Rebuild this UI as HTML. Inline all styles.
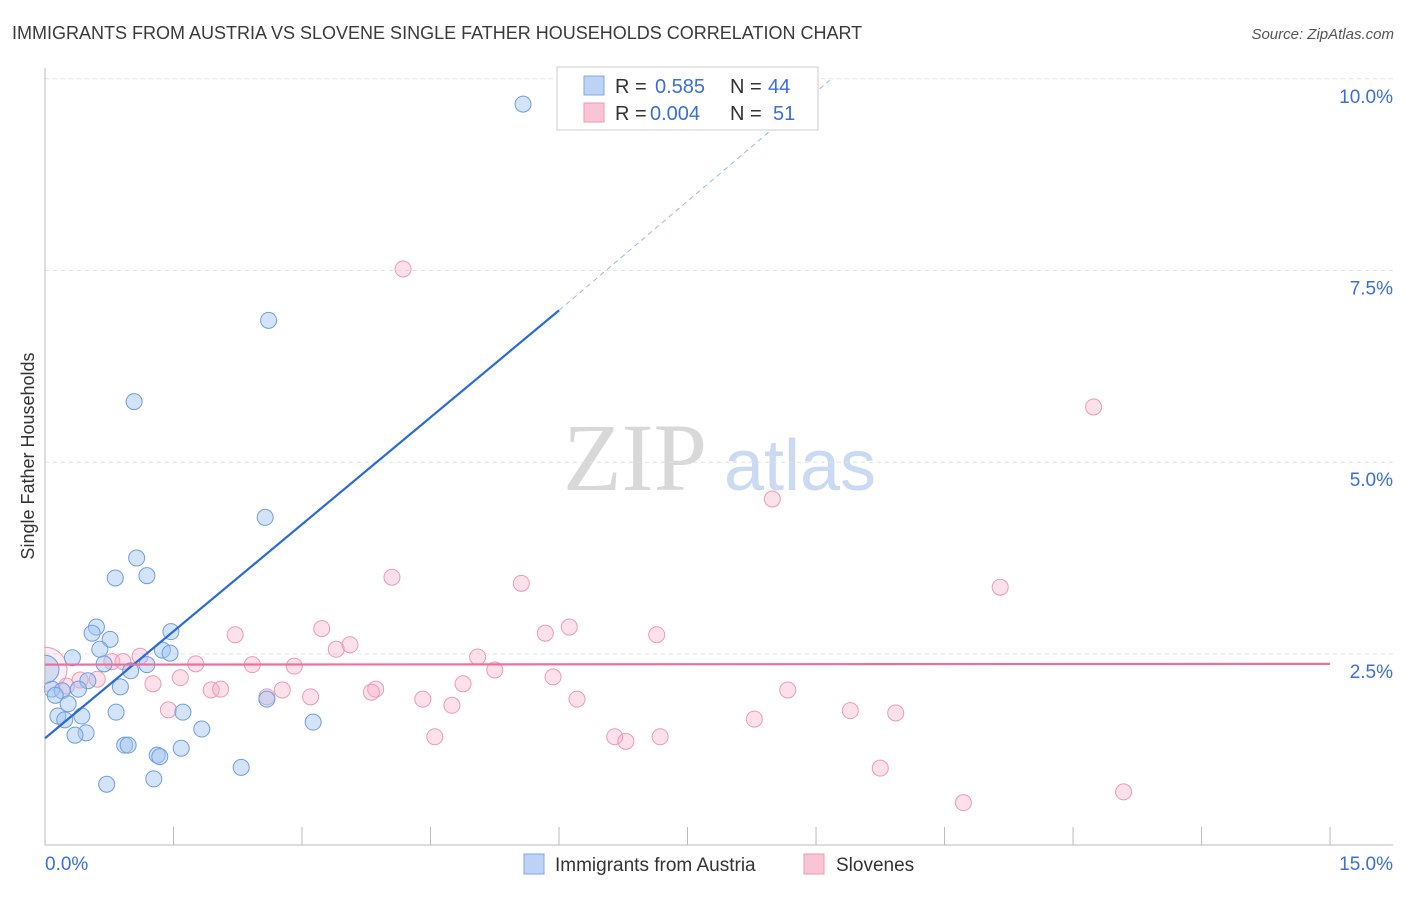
<!DOCTYPE html>
<html><head><meta charset="utf-8">
<style>
html,body{margin:0;padding:0;background:#fff;}
body{width:1406px;height:892px;overflow:hidden;font-family:"Liberation Sans",sans-serif;}
</style></head>
<body>
<svg id="chart" width="1406" height="892" xmlns="http://www.w3.org/2000/svg" font-family="Liberation Sans, sans-serif">
<text x="12" y="39" font-size="18" fill="#3a3a3a">IMMIGRANTS FROM AUSTRIA VS SLOVENE SINGLE FATHER HOUSEHOLDS CORRELATION CHART</text>
<text x="1394" y="39" font-size="15" fill="#555" text-anchor="end" font-style="italic">Source: ZipAtlas.com</text>
<text transform="translate(34,456) rotate(-90)" font-size="18" fill="#333" text-anchor="middle">Single Father Households</text>
<g>
<text x="635" y="490" font-size="96" fill="#d8d8d8" text-anchor="middle" font-family="Liberation Serif, serif">ZIP</text>
<text x="800" y="490" font-size="72" fill="#c9daf2" text-anchor="middle">atlas</text>
</g>
<g id="grid"></g>
<g id="marks"></g>
<rect x="0" y="630" width="44" height="70" fill="#fff"/>
<g id="axes"></g>
<g id="lines"></g>
<g>
<rect x="557" y="67" width="261" height="63" fill="#fff" stroke="#ccc"/>
<rect x="584" y="76" width="20" height="19" fill="#bcd3f5" stroke="#7ea8e6"/>
<rect x="584" y="103" width="20" height="19" fill="#f9c4d4" stroke="#ee9ab4"/>
<text x="615" y="93" font-size="20" fill="#333">R =</text><text x="655" y="93" font-size="20" fill="#3a6fd8">0.585</text>
<text x="730" y="93" font-size="20" fill="#333">N =</text><text x="768" y="93" font-size="20" fill="#3a6fd8">44</text>
<text x="615" y="120" font-size="20" fill="#333">R =</text><text x="650" y="120" font-size="20" fill="#3a6fd8">0.004</text>
<text x="730" y="120" font-size="20" fill="#333">N =</text><text x="773" y="120" font-size="20" fill="#3a6fd8">51</text>
</g>
<g>
<rect x="524" y="854" width="20" height="20" fill="#bcd3f5" stroke="#7ea8e6"/>
<text x="555" y="871" font-size="19" fill="#333">Immigrants from Austria</text>
<rect x="804" y="854" width="20" height="20" fill="#f9c4d4" stroke="#ee9ab4"/>
<text x="836" y="871" font-size="19" fill="#333">Slovenes</text>
</g>
</svg>
<script>
const blueX=[5.58,2.61,1.04,2.57,1.07,0.82,1.19,0.60,0.55,0.76,1.47,0.64,1.37,1.46,0.32,0.69,1.00,1.19,0.50,0.88,0.39,0.08,0.20,0.12,0.27,2.59,0.83,1.61,0.15,0.43,0.23,1.83,0.48,0.35,3.13,0.93,0.97,1.31,1.34,1.59,2.29,1.27,0.72,0.0];
const blueY=[9.67,6.85,5.79,4.28,3.75,3.49,3.52,2.85,2.77,2.69,2.79,2.56,2.55,2.51,2.45,2.37,2.28,2.36,2.15,2.07,2.04,2.04,2.02,1.96,1.85,1.91,1.74,1.74,1.69,1.69,1.64,1.52,1.47,1.44,1.61,1.31,1.31,1.18,1.16,1.27,1.02,0.87,0.80,2.30];
const pinkX=[4.18,12.24,8.49,4.05,5.56,11.15,6.12,3.23,5.84,7.14,2.22,3.56,3.40,5.05,1.11,1.76,2.42,2.91,0.78,0.91,5.25,5.93,1.58,0.61,0.41,0.25,1.26,4.88,2.77,1.94,2.05,3.86,3.81,2.59,3.10,8.67,4.41,6.21,4.75,1.44,9.40,9.93,8.28,4.55,6.65,7.18,6.78,9.75,10.72,12.59,0];
const pinkY=[7.52,5.72,4.52,3.50,3.42,3.37,2.85,2.83,2.77,2.75,2.75,2.62,2.56,2.46,2.47,2.37,2.36,2.34,2.40,2.40,2.29,2.20,2.19,2.17,2.16,2.08,2.11,2.11,2.03,2.03,2.04,2.04,2.00,1.94,1.94,2.03,1.91,1.91,1.83,1.77,1.76,1.73,1.65,1.42,1.42,1.42,1.36,1.01,0.56,0.70,2.30];
const yTicks=[2.5,5.0,7.5,10.0];
const yTickLabels=["2.5%","5.0%","7.5%","10.0%"];
const xTicks=[0,1.5,3,4.5,6,7.5,9,10.5,12,13.5,15];
const blueFit=[0,1.40,6.0,6.98,9.16,9.98];
const pinkFit=[0,2.36,15,2.37];
const NS="http://www.w3.org/2000/svg";
const X=v=>45+v*85.67, Y=v=>845.6-v*76.68;
function mk(tag,attrs,parent){const e=document.createElementNS(NS,tag);for(const k in attrs)e.setAttribute(k,attrs[k]);document.getElementById(parent).appendChild(e);return e;}
yTicks.forEach((t,i)=>{
 const g=mk('line',{x1:45,x2:1393,y1:Y(t),y2:Y(t),stroke:'#e2e2e2','stroke-dasharray':'4,4'},'grid');
 
 
 const l=mk('text',{x:1393,y:Y(t)+24,'font-size':19,fill:'#3a6fd8','text-anchor':'end'},'axes');
 l.textContent=yTickLabels[i];
 
 
});
const ax=mk('line',{x1:45,x2:1393,y1:845,y2:845,stroke:'#bbb'},'axes');


const ay=mk('line',{x1:45,x2:45,y1:68,y2:845,stroke:'#bbb'},'axes');


xTicks.forEach(t=>{const e=mk('line',{x1:X(t),x2:X(t),y1:827,y2:845,stroke:'#bbb'},'axes');
 
 });
const x0=mk('text',{x:45,y:870,'font-size':19,fill:'#3a6fd8'},'axes');x0.textContent='0.0%';


const x1=mk('text',{x:1393,y:870,'font-size':19,fill:'#3a6fd8','text-anchor':'end'},'axes');x1.textContent='15.0%';


pinkX.forEach((v,i)=>{const big=i===pinkX.length-1;const c=mk('circle',{cx:X(v),cy:Y(pinkY[i]),r:big?22:8,fill:big?'rgba(245,170,195,0.2)':'rgba(245,170,195,0.35)',stroke:'#ee9ab4','stroke-width':1},'marks');
 
 });
blueX.forEach((v,i)=>{const big=i===blueX.length-1;const c=mk('circle',{cx:X(v),cy:Y(blueY[i]),r:big?14:8,fill:'rgba(160,195,240,0.45)',stroke:'#6f9ddf','stroke-width':1},'marks');
 
 });
const bl=mk('line',{x1:X(blueFit[0]),y1:Y(blueFit[1]),x2:X(blueFit[2]),y2:Y(blueFit[3]),stroke:'#2a6ad6','stroke-width':2.2},'lines');


const bd=mk('line',{x1:X(blueFit[2]),y1:Y(blueFit[3]),x2:X(blueFit[4]),y2:Y(blueFit[5]),stroke:'#9bb8e6','stroke-width':1,'stroke-dasharray':'5,4'},'lines');


const pl=mk('line',{x1:X(pinkFit[0]),y1:Y(pinkFit[1]),x2:X(pinkFit[2]),y2:Y(pinkFit[3]),stroke:'#e8729a','stroke-width':2.2},'lines');


</script>
</body></html>
